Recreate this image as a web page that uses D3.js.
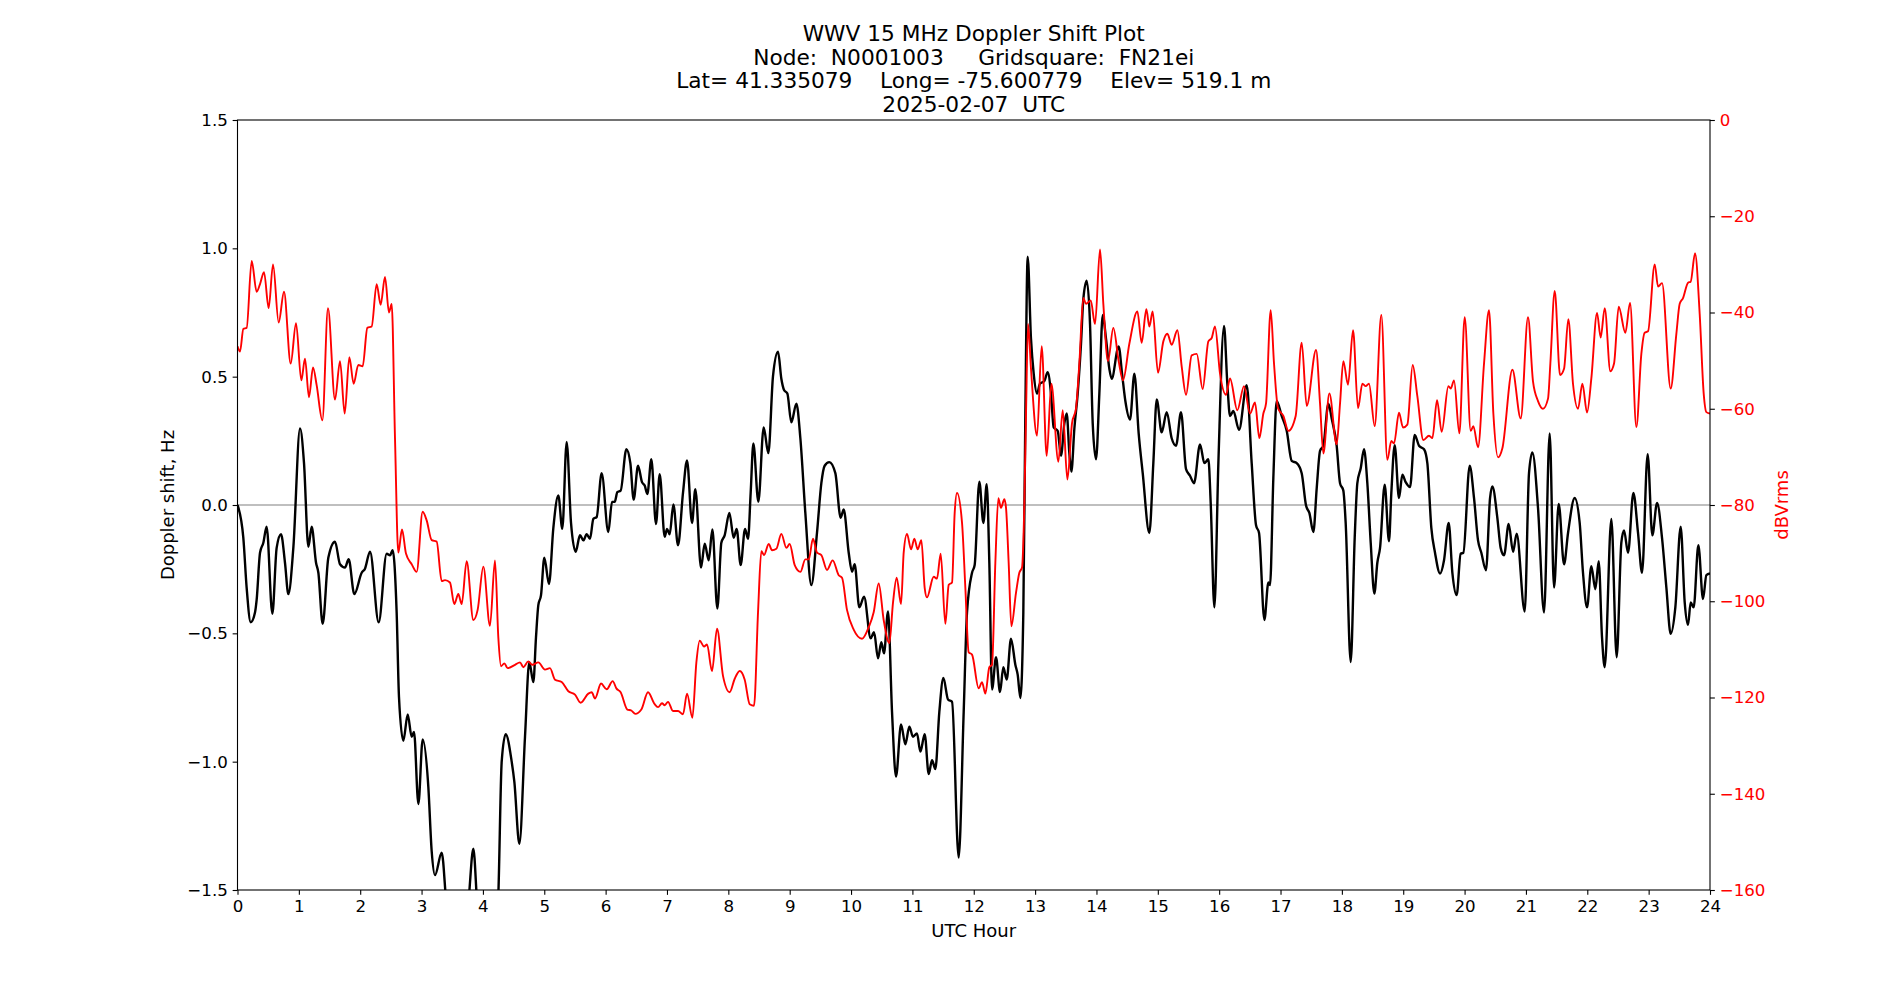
<!DOCTYPE html>
<html>
<head>
<meta charset="utf-8">
<script src="https://cdn.jsdelivr.net/npm/d3@7"></script>
<style>
  body { margin: 0; background: #fff; }
  svg { font-family: "DejaVu Sans", sans-serif; }
</style>
</head>
<body>
<svg id="chart" width="1900" height="1000"></svg>
<script>
// title lines
const titleLines = [
  "WWV 15 MHz Doppler Shift Plot",
  "Node:  N0001003     Gridsquare:  FN21ei",
  "Lat= 41.335079    Long= -75.600779    Elev= 519.1 m",
  "2025-02-07  UTC"
];

const hourTicks = d3.range(0, 25);
const hzTicks = [-1.5, -1.0, -0.5, 0.0, 0.5, 1.0, 1.5];
const dbTicks = [-160, -140, -120, -100, -80, -60, -40, -20, 0];

// doppler shift (Hz) vs UTC hour
const doppler = [
  [0.0,0.0],[0.095,-0.128],[0.149,-0.322],[0.215,-0.457],[0.285,-0.419],[0.312,-0.37],[0.367,-0.186],[0.421,-0.147],
  [0.475,-0.085],[0.568,-0.424],[0.638,-0.167],[0.709,-0.114],[0.774,-0.225],[0.829,-0.347],[0.91,-0.167],[1.019,0.298],
  [1.084,0.163],[1.155,-0.163],[1.209,-0.085],[1.28,-0.225],[1.318,-0.264],[1.388,-0.463],[1.481,-0.205],[1.589,-0.143],
  [1.671,-0.231],[1.752,-0.244],[1.812,-0.211],[1.904,-0.347],[2.024,-0.264],[2.078,-0.248],[2.16,-0.182],[2.301,-0.457],
  [2.431,-0.19],[2.486,-0.196],[2.529,-0.176],[2.594,-0.419],[2.632,-0.748],[2.703,-0.919],[2.774,-0.816],[2.839,-0.903],
  [2.877,-0.884],[2.948,-1.165],[3.018,-0.913],[3.11,-1.097],[3.165,-1.349],[3.219,-1.442],[3.328,-1.355],[3.393,-1.523],
  [3.49,-1.9],[3.65,-1.9],[3.773,-1.523],[3.844,-1.339],[3.898,-1.523],[3.98,-1.9],[4.14,-1.9],[4.251,-1.523],
  [4.306,-1.0],[4.371,-0.893],[4.469,-1.0],[4.512,-1.078],[4.594,-1.32],[4.686,-0.903],[4.756,-0.612],[4.822,-0.69],
  [4.865,-0.516],[4.903,-0.39],[4.947,-0.351],[5.001,-0.205],[5.077,-0.308],[5.148,-0.089],[5.229,0.037],[5.294,-0.093],
  [5.365,0.246],[5.436,-0.07],[5.512,-0.182],[5.582,-0.118],[5.637,-0.138],[5.691,-0.114],[5.745,-0.132],[5.8,-0.054],
  [5.854,-0.047],[5.935,0.124],[6.044,-0.105],[6.104,0.012],[6.148,0.012],[6.191,0.05],[6.245,0.056],[6.338,0.217],
  [6.403,0.163],[6.457,0.021],[6.528,0.153],[6.593,0.089],[6.637,0.076],[6.68,0.043],[6.745,0.178],[6.821,-0.074],
  [6.881,0.12],[6.963,-0.124],[7.001,-0.093],[7.044,-0.114],[7.104,0.002],[7.18,-0.157],[7.261,0.047],[7.327,0.174],
  [7.408,-0.07],[7.462,0.062],[7.555,-0.244],[7.615,-0.151],[7.68,-0.215],[7.74,-0.095],[7.821,-0.403],[7.886,-0.147],
  [7.94,-0.118],[8.017,-0.031],[8.087,-0.128],[8.136,-0.093],[8.201,-0.234],[8.272,-0.093],[8.321,-0.132],[8.364,0.047],
  [8.408,0.24],[8.489,0.012],[8.576,0.302],[8.652,0.202],[8.728,0.502],[8.81,0.597],[8.864,0.492],[8.908,0.448],
  [8.962,0.434],[9.027,0.322],[9.109,0.395],[9.174,0.26],[9.255,-0.031],[9.353,-0.312],[9.445,-0.109],[9.516,0.085],
  [9.57,0.153],[9.646,0.167],[9.744,0.124],[9.831,-0.05],[9.88,-0.017],[9.962,-0.186],[10.016,-0.26],[10.059,-0.231],
  [10.135,-0.399],[10.212,-0.357],[10.32,-0.519],[10.375,-0.496],[10.44,-0.597],[10.494,-0.535],[10.537,-0.578],[10.603,-0.415],
  [10.668,-0.806],[10.733,-1.058],[10.815,-0.855],[10.885,-0.932],[10.95,-0.864],[11.01,-0.903],[11.075,-0.89],[11.13,-0.961],
  [11.2,-0.893],[11.266,-1.048],[11.32,-0.994],[11.374,-1.029],[11.439,-0.806],[11.505,-0.674],[11.581,-0.758],[11.646,-0.767],
  [11.754,-1.374],[11.836,-0.806],[11.89,-0.419],[11.972,-0.264],[12.015,-0.234],[12.091,0.091],[12.157,-0.07],[12.211,0.081],
  [12.254,-0.225],[12.298,-0.719],[12.363,-0.593],[12.428,-0.729],[12.482,-0.632],[12.537,-0.68],[12.607,-0.521],[12.678,-0.622],
  [12.716,-0.661],[12.76,-0.752],[12.808,-0.419],[12.841,0.357],[12.879,0.967],[12.933,0.647],[12.977,0.512],[13.031,0.434],
  [13.08,0.473],[13.151,0.483],[13.205,0.517],[13.259,0.434],[13.303,0.302],[13.368,0.289],[13.422,0.192],[13.477,0.318],
  [13.515,0.357],[13.558,0.202],[13.591,0.13],[13.64,0.298],[13.694,0.434],[13.748,0.628],[13.786,0.802],[13.841,0.874],
  [13.895,0.705],[13.939,0.318],[13.993,0.178],[14.047,0.434],[14.102,0.74],[14.156,0.647],[14.21,0.531],[14.248,0.492],
  [14.362,0.618],[14.417,0.512],[14.471,0.405],[14.547,0.333],[14.618,0.512],[14.688,0.279],[14.754,0.124],[14.862,-0.109],
  [14.927,0.163],[14.982,0.411],[15.063,0.283],[15.145,0.362],[15.226,0.26],[15.297,0.231],[15.378,0.362],[15.46,0.14],
  [15.525,0.114],[15.59,0.085],[15.688,0.236],[15.759,0.163],[15.824,0.178],[15.862,0.008],[15.922,-0.399],[15.987,0.163],
  [16.079,0.698],[16.133,0.473],[16.177,0.347],[16.231,0.366],[16.324,0.293],[16.449,0.467],[16.53,0.163],[16.601,-0.079],
  [16.65,-0.109],[16.737,-0.448],[16.802,-0.302],[16.829,-0.312],[16.883,0.105],[16.937,0.405],[17.019,0.347],[17.101,0.289],
  [17.182,0.172],[17.264,0.163],[17.345,0.124],[17.416,-0.002],[17.47,-0.031],[17.535,-0.105],[17.59,0.066],[17.644,0.211],
  [17.698,0.231],[17.78,0.395],[17.834,0.337],[17.915,0.231],[17.97,0.085],[18.024,0.056],[18.062,-0.07],[18.144,-0.612],
  [18.209,-0.128],[18.252,0.085],[18.307,0.143],[18.361,0.217],[18.415,0.085],[18.47,-0.147],[18.529,-0.345],[18.578,-0.225],
  [18.622,-0.167],[18.698,0.079],[18.768,-0.141],[18.806,0.047],[18.861,0.233],[18.931,0.027],[18.986,0.118],[19.04,0.089],
  [19.111,0.07],[19.187,0.273],[19.257,0.231],[19.339,0.217],[19.393,0.163],[19.458,-0.089],[19.518,-0.186],[19.6,-0.267],
  [19.665,-0.215],[19.741,-0.07],[19.801,-0.264],[19.871,-0.351],[19.936,-0.19],[19.98,-0.186],[20.083,0.153],[20.154,0.027],
  [20.219,-0.138],[20.273,-0.186],[20.349,-0.254],[20.415,0.027],[20.453,0.072],[20.534,-0.05],[20.588,-0.167],[20.643,-0.196],
  [20.719,-0.074],[20.79,-0.182],[20.849,-0.112],[20.98,-0.415],[21.05,0.124],[21.105,0.205],[21.197,-0.012],[21.295,-0.419],
  [21.387,0.279],[21.458,-0.322],[21.534,0.004],[21.621,-0.231],[21.686,-0.109],[21.795,0.027],[21.876,-0.07],[21.93,-0.264],
  [21.996,-0.399],[22.066,-0.238],[22.131,-0.328],[22.186,-0.219],[22.24,-0.516],[22.284,-0.632],[22.392,-0.054],[22.479,-0.593],
  [22.555,-0.147],[22.599,-0.099],[22.664,-0.186],[22.751,0.047],[22.827,-0.109],[22.892,-0.264],[22.984,0.198],[23.06,-0.118],
  [23.137,0.008],[23.218,-0.128],[23.289,-0.322],[23.359,-0.502],[23.435,-0.399],[23.522,-0.085],[23.588,-0.38],[23.642,-0.467],
  [23.685,-0.38],[23.734,-0.399],[23.81,-0.157],[23.886,-0.366],[23.941,-0.273],[24.0,-0.267]
];

// signal level (dBVrms) vs UTC hour
const power = [
  [0.0,-47],[0.041,-48.1],[0.095,-43.4],[0.149,-43.2],[0.231,-29.3],[0.312,-35.7],[0.367,-34.1],[0.432,-31.6],
  [0.508,-39.1],[0.579,-30.0],[0.671,-42.1],[0.758,-35.7],[0.867,-50.6],[0.954,-42.2],[1.04,-54.1],[1.1,-49.6],
  [1.165,-57.6],[1.231,-51.4],[1.29,-55.1],[1.383,-62.4],[1.475,-39.1],[1.589,-58.1],[1.671,-50.1],[1.747,-61.0],
  [1.823,-49.3],[1.893,-54.8],[1.969,-50.9],[2.04,-51.2],[2.116,-43.2],[2.187,-42.9],[2.268,-34.1],[2.333,-38.4],
  [2.404,-32.6],[2.469,-40.0],[2.513,-38.2],[2.567,-66.1],[2.621,-89.9],[2.681,-85.1],[2.746,-90.1],[2.839,-92.3],
  [2.92,-93.9],[3.018,-81.4],[3.083,-83.2],[3.165,-87.3],[3.246,-87.6],[3.328,-95.8],[3.382,-95.6],[3.463,-96.1],
  [3.534,-100.6],[3.599,-98.5],[3.654,-100.6],[3.735,-91.7],[3.844,-103.9],[3.914,-101.8],[4.007,-92.8],[4.115,-105.1],
  [4.197,-91.5],[4.251,-107.5],[4.295,-113.5],[4.349,-112.9],[4.403,-113.9],[4.523,-113.2],[4.604,-112.7],[4.659,-113.7],
  [4.74,-112.5],[4.805,-113.2],[4.903,-112.7],[5.012,-114.2],[5.093,-113.9],[5.175,-116.3],[5.284,-116.8],[5.392,-118.7],
  [5.501,-119.4],[5.593,-121.1],[5.718,-119.2],[5.773,-118.9],[5.827,-120.2],[5.925,-117.1],[6.017,-118.3],[6.115,-116.6],
  [6.175,-118.1],[6.245,-118.9],[6.354,-122.5],[6.419,-122.7],[6.484,-123.4],[6.582,-122.5],[6.691,-118.9],[6.8,-121.4],
  [6.854,-122.0],[6.919,-121.2],[6.963,-121.6],[7.017,-120.9],[7.098,-122.8],[7.18,-122.8],[7.261,-123.5],[7.327,-119.2],
  [7.414,-124.2],[7.479,-112.7],[7.533,-108.2],[7.604,-109.4],[7.653,-109.0],[7.734,-114.5],[7.816,-105.7],[7.913,-115.5],
  [8.022,-118.9],[8.104,-116.1],[8.185,-114.5],[8.267,-116.3],[8.348,-121.4],[8.419,-121.7],[8.484,-102.3],[8.538,-89.6],
  [8.582,-90.4],[8.658,-88.1],[8.712,-89.4],[8.783,-89.1],[8.864,-86.0],[8.946,-88.9],[9.0,-88.1],[9.082,-92.5],
  [9.174,-93.9],[9.255,-91.3],[9.31,-91.3],[9.38,-87.0],[9.445,-89.9],[9.516,-90.4],[9.608,-93.5],[9.701,-91.5],
  [9.799,-94.6],[9.853,-95.1],[9.934,-101.8],[10.043,-105.9],[10.179,-107.8],[10.288,-105.4],[10.369,-102.3],[10.451,-96.3],
  [10.532,-103.9],[10.624,-108.7],[10.684,-100.3],[10.744,-95.1],[10.815,-100.6],[10.858,-89.9],[10.912,-86.0],[10.978,-89.2],
  [11.032,-87.0],[11.086,-89.2],[11.146,-87.3],[11.2,-97.2],[11.238,-99.2],[11.347,-94.9],[11.401,-95.3],[11.461,-90.1],
  [11.537,-104.7],[11.592,-96.6],[11.646,-96.1],[11.689,-81.7],[11.727,-77.5],[11.809,-83.7],[11.863,-97.2],[11.917,-110.6],
  [11.972,-111.1],[12.08,-118.1],[12.135,-116.8],[12.189,-119.2],[12.254,-113.7],[12.298,-113.2],[12.352,-92.0],[12.401,-78.6],
  [12.444,-80.6],[12.499,-78.8],[12.526,-80.6],[12.569,-92.0],[12.613,-105.2],[12.689,-98.2],[12.743,-94.1],[12.787,-93.0],
  [12.825,-79.6],[12.852,-61.0],[12.885,-42.4],[12.933,-51.7],[13.031,-65.6],[13.107,-47.0],[13.189,-69.8],[13.265,-54.8],
  [13.379,-71.0],[13.45,-60.3],[13.526,-74.7],[13.602,-63.0],[13.667,-59.9],[13.721,-50.6],[13.786,-37.0],[13.83,-38.2],
  [13.906,-37.5],[13.977,-42.4],[14.058,-26.9],[14.112,-38.2],[14.188,-50.1],[14.275,-43.2],[14.362,-50.1],[14.433,-54.1],
  [14.536,-46.5],[14.667,-39.8],[14.737,-46.3],[14.813,-39.3],[14.862,-42.9],[14.916,-39.8],[15.003,-52.5],[15.09,-46.0],
  [15.156,-44.4],[15.226,-46.7],[15.319,-43.7],[15.389,-51.2],[15.46,-57.1],[15.552,-48.9],[15.634,-48.6],[15.731,-55.9],
  [15.824,-46.0],[15.878,-45.3],[15.932,-42.9],[16.014,-52.7],[16.112,-57.1],[16.177,-53.7],[16.296,-60.3],[16.405,-55.3],
  [16.503,-61.0],[16.584,-58.7],[16.655,-66.1],[16.72,-61.0],[16.764,-58.9],[16.84,-39.5],[16.894,-50.6],[16.959,-59.9],
  [17.046,-61.5],[17.128,-64.6],[17.247,-61.5],[17.345,-46.3],[17.427,-59.4],[17.579,-47.8],[17.644,-58.9],[17.698,-69.3],
  [17.796,-56.8],[17.915,-67.4],[17.97,-58.9],[18.024,-50.1],[18.1,-55.0],[18.182,-43.7],[18.263,-59.9],[18.334,-54.8],
  [18.388,-55.3],[18.442,-54.8],[18.535,-63.6],[18.643,-40.5],[18.741,-70.6],[18.806,-66.7],[18.85,-67.2],[18.931,-60.8],
  [18.997,-63.9],[19.067,-63.3],[19.154,-50.9],[19.23,-57.4],[19.328,-66.5],[19.42,-65.6],[19.475,-66.1],[19.551,-58.2],
  [19.627,-64.8],[19.736,-55.3],[19.774,-55.8],[19.828,-54.1],[19.915,-65.1],[20.002,-41.0],[20.1,-64.6],[20.143,-63.6],
  [20.219,-68.0],[20.317,-50.6],[20.398,-39.5],[20.469,-61.0],[20.545,-70.1],[20.616,-68.2],[20.779,-51.9],[20.915,-62.0],
  [21.034,-41.0],[21.115,-54.3],[21.197,-58.4],[21.278,-60.0],[21.36,-57.9],[21.398,-50.6],[21.469,-35.5],[21.556,-53.0],
  [21.621,-51.7],[21.691,-41.4],[21.767,-54.8],[21.849,-60.0],[21.92,-54.8],[21.996,-60.8],[22.066,-53.7],[22.159,-40.1],
  [22.218,-45.2],[22.284,-39.1],[22.376,-52.2],[22.436,-50.6],[22.512,-38.8],[22.62,-44.2],[22.697,-38.0],[22.8,-63.8],
  [22.881,-48.6],[22.935,-44.2],[22.99,-43.9],[23.099,-30.0],[23.153,-34.6],[23.218,-33.9],[23.359,-55.8],[23.452,-44.4],
  [23.506,-38.2],[23.56,-37.0],[23.642,-33.8],[23.685,-33.6],[23.756,-27.7],[23.832,-40.3],[23.897,-56.8],[23.941,-60.7],
  [24.0,-61.0]
];

const W = 1900, H = 1000;
const margin = {left: 237.5, right: 190, top: 120, bottom: 110};
const plotW = W - margin.left - margin.right;
const plotH = H - margin.top - margin.bottom;

const svg = d3.select("#chart");
const g = svg.append("g").attr("transform", "translate(" + margin.left + "," + margin.top + ")");

const x = d3.scaleLinear().domain([0, 24]).range([0, plotW]);
const yHz = d3.scaleLinear().domain([-1.5, 1.5]).range([plotH, 0]);
const yDb = d3.scaleLinear().domain([-160, 0]).range([plotH, 0]);

const minus = s => s.replace("-", "\u2212");

svg.append("defs").append("clipPath").attr("id", "clip")
  .append("rect").attr("width", plotW).attr("height", plotH);

// zero line
g.append("line")
  .attr("x1", 0).attr("x2", plotW)
  .attr("y1", yHz(0)).attr("y2", yHz(0))
  .attr("stroke", "#808080").attr("stroke-width", 1.2);

const lineHz = d3.line().x(d => x(d[0])).y(d => yHz(d[1])).curve(d3.curveMonotoneX);
const lineDb = d3.line().x(d => x(d[0])).y(d => yDb(d[1])).curve(d3.curveMonotoneX);

g.append("path").datum(doppler)
  .attr("clip-path", "url(#clip)")
  .attr("fill", "none").attr("stroke", "#000").attr("stroke-width", 2.4)
  .attr("stroke-linejoin", "round")
  .attr("d", lineHz);

g.append("path").datum(power)
  .attr("clip-path", "url(#clip)")
  .attr("fill", "none").attr("stroke", "#ff0000").attr("stroke-width", 1.9)
  .attr("stroke-linejoin", "round")
  .attr("d", lineDb);

// axes
const tickLen = 4.86, tickPad = 4.86, tickFont = 16.67, labelFont = 18;

const xAxis = g.append("g").attr("transform", "translate(0," + plotH + ")")
  .call(d3.axisBottom(x).tickValues(hourTicks).tickFormat(d3.format("d"))
    .tickSizeInner(tickLen).tickSizeOuter(0).tickPadding(tickPad));

const yAxisL = g.append("g")
  .call(d3.axisLeft(yHz).tickValues(hzTicks).tickFormat(d => minus(d3.format(".1f")(d)))
    .tickSizeInner(tickLen).tickSizeOuter(0).tickPadding(tickPad));

const yAxisR = g.append("g").attr("transform", "translate(" + plotW + ",0)")
  .call(d3.axisRight(yDb).tickValues(dbTicks).tickFormat(d => minus(String(d)))
    .tickSizeInner(tickLen).tickSizeOuter(0).tickPadding(tickPad));

[xAxis, yAxisL, yAxisR].forEach(a => {
  a.select(".domain").remove();
  a.selectAll("text").attr("font-size", tickFont).attr("font-family", "DejaVu Sans").attr("fill", "#000");
  a.selectAll("line").attr("stroke", "#000").attr("stroke-width", 1.1);
});
yAxisR.selectAll("text").attr("fill", "#ff0000");

// frame
g.append("rect").attr("width", plotW).attr("height", plotH)
  .attr("fill", "none").attr("stroke", "#000").attr("stroke-width", 1.1);

// labels
svg.append("text")
  .attr("x", margin.left + plotW / 2).attr("y", 937)
  .attr("text-anchor", "middle").attr("font-size", labelFont)
  .text("UTC Hour");

svg.append("text")
  .attr("transform", "translate(174," + (margin.top + plotH / 2) + ") rotate(-90)")
  .attr("text-anchor", "middle").attr("font-size", labelFont)
  .text("Doppler shift, Hz");

svg.append("text")
  .attr("transform", "translate(1788," + (margin.top + plotH / 2) + ") rotate(-90)")
  .attr("text-anchor", "middle").attr("font-size", labelFont).attr("fill", "#ff0000")
  .text("dBVrms");

svg.append("g").selectAll("text")
  .data(titleLines)
  .enter().append("text")
  .attr("x", margin.left + plotW / 2)
  .attr("y", (d, i) => 112 - (titleLines.length - 1 - i) * 23.6)
  .attr("text-anchor", "middle").attr("font-size", 21.7)
  .attr("xml:space", "preserve").style("white-space", "pre")
  .text(d => d);
</script>
</body>
</html>
